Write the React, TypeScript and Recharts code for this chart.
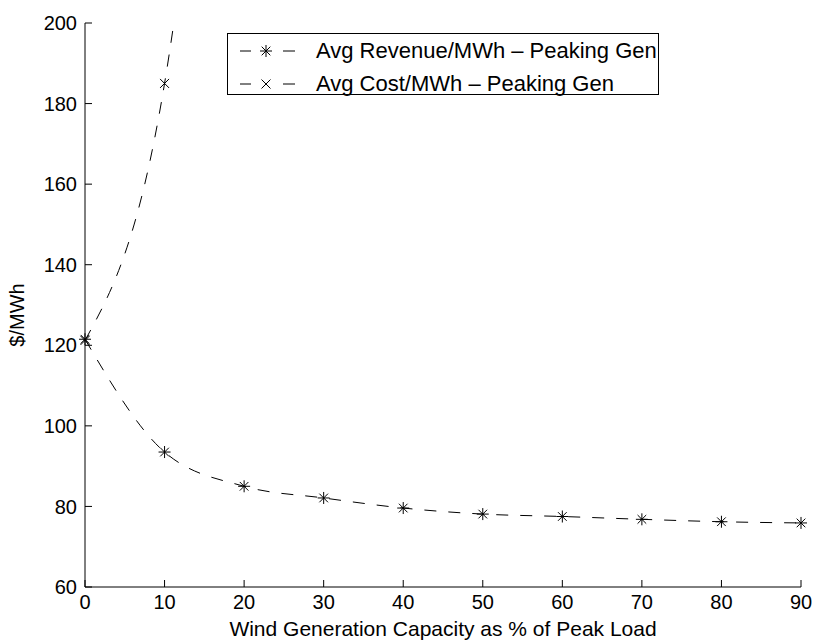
import { LineChart, Line, XAxis, YAxis, Legend } from "recharts";

const FONT = '"Liberation Sans", Arial, Helvetica, sans-serif';

// wind capacity as % of peak load
const capacityPct = [0, 10, 20, 30, 40, 50, 60, 70, 80, 90];
// avg revenue per MWh for the peaking generator
const avgRevenue = [121.5, 93.5, 85, 82.1, 79.6, 78.1, 77.5, 76.8, 76.2, 75.9];
// avg cost per MWh, runs off the top of the chart after 10%
const avgCost: (number | null)[] = [121.2, 185, 360, null, null, null, null, null, null, null];

const xTicks = [0, 10, 20, 30, 40, 50, 60, 70, 80, 90];
const yTicks = [60, 80, 100, 120, 140, 160, 180, 200];

const data = capacityPct.map((pct, i) => ({
  pct,
  revenue: avgRevenue[i],
  cost: avgCost[i],
}));

function StarMark({ cx, cy, r = 6 }: { cx: number; cy: number; r?: number }) {
  const d = r * 0.72;
  return (
    <g stroke="#000" strokeWidth={1}>
      <line x1={cx - r} y1={cy} x2={cx + r} y2={cy} />
      <line x1={cx} y1={cy - r} x2={cx} y2={cy + r} />
      <line x1={cx - d} y1={cy - d} x2={cx + d} y2={cy + d} />
      <line x1={cx - d} y1={cy + d} x2={cx + d} y2={cy - d} />
    </g>
  );
}

function CrossMark({ cx, cy, r = 4.5 }: { cx: number; cy: number; r?: number }) {
  return (
    <g stroke="#000" strokeWidth={1}>
      <line x1={cx - r} y1={cy - r} x2={cx + r} y2={cy + r} />
      <line x1={cx - r} y1={cy + r} x2={cx + r} y2={cy - r} />
    </g>
  );
}

const starDot = (props: any) => {
  const { cx, cy, index, value } = props;
  if (cx == null || cy == null || value == null) return <g key={`s${index}`} />;
  return <StarMark key={`s${index}`} cx={cx} cy={cy} />;
};

const crossDot = (props: any) => {
  const { cx, cy, index, value } = props;
  if (cx == null || cy == null || value == null) return <g key={`c${index}`} />;
  return <CrossMark key={`c${index}`} cx={cx} cy={cy} />;
};

const legendRows = [
  { label: "Avg Revenue/MWh \u2013 Peaking Gen", mark: "star" },
  { label: "Avg Cost/MWh \u2013 Peaking Gen", mark: "cross" },
];

function LegendBox() {
  return (
    <div
      style={{
        position: "relative",
        width: 432,
        height: 62,
        boxSizing: "border-box",
        border: "1px solid #000",
        background: "#fff",
        fontFamily: FONT,
        fontSize: 22,
        color: "#000",
      }}
    >
      {legendRows.map((row, i) => (
        <div
          key={row.label}
          style={{
            position: "absolute",
            top: 4 + i * 33,
            left: 12,
            height: 26,
            display: "flex",
            alignItems: "center",
            whiteSpace: "nowrap",
          }}
        >
          <svg width={60} height={20} style={{ marginRight: 16 }}>
            <line x1={0} y1={10} x2={11} y2={10} stroke="#000" strokeWidth={1} />
            <line x1={43} y1={10} x2={55} y2={10} stroke="#000" strokeWidth={1} />
            {row.mark === "star" ? <StarMark cx={26} cy={10} /> : <CrossMark cx={26} cy={10} />}
          </svg>
          <span>{row.label}</span>
        </div>
      ))}
    </div>
  );
}

export default function App() {
  return (
    <div style={{ position: "relative", width: 814, height: 641, background: "#fff" }}>
      <style>{"body{margin:0}"}</style>
      <LineChart
        width={814}
        height={641}
        data={data}
        margin={{ top: 23, right: 13, left: 0, bottom: 0 }}
      >
        <XAxis
          dataKey="pct"
          type="number"
          domain={[0, 90]}
          ticks={xTicks}
          height={54}
          stroke="#000"
          tickSize={-7}
          tickMargin={15}
          tick={{ fill: "#000", fontSize: 20, fontFamily: FONT }}
          label={{
            value: "Wind Generation Capacity as % of Peak Load",
            position: "insideBottom",
            offset: 5,
            style: { fill: "#000", fontSize: 21, fontFamily: FONT },
          }}
        />
        <YAxis
          type="number"
          domain={[60, 200]}
          ticks={yTicks}
          allowDataOverflow
          width={85}
          stroke="#000"
          tickSize={-7}
          tickMargin={15}
          tick={{ fill: "#000", fontSize: 20, fontFamily: FONT }}
          label={{
            content: () => (
              <text
                x={17}
                y={315}
                transform="rotate(-90 17 315)"
                textAnchor="middle"
                dominantBaseline="central"
                fill="#000"
                fontSize={20}
                fontFamily={FONT}
              >
                $/MWh
              </text>
            ),
          }}
        />
        <Legend
          layout="horizontal"
          verticalAlign="middle"
          align="center"
          wrapperStyle={{ top: 33, left: 227, width: 432, height: 62 }}
          content={() => <LegendBox />}
        />
        <Line
          type="monotone"
          dataKey="revenue"
          stroke="#000"
          strokeWidth={1}
          strokeDasharray="12 12"
          dot={starDot}
          activeDot={false}
          isAnimationActive={false}
        />
        <Line
          type="monotone"
          dataKey="cost"
          stroke="#000"
          strokeWidth={1}
          strokeDasharray="12 12"
          dot={crossDot}
          activeDot={false}
          connectNulls={false}
          isAnimationActive={false}
        />
      </LineChart>
    </div>
  );
}
